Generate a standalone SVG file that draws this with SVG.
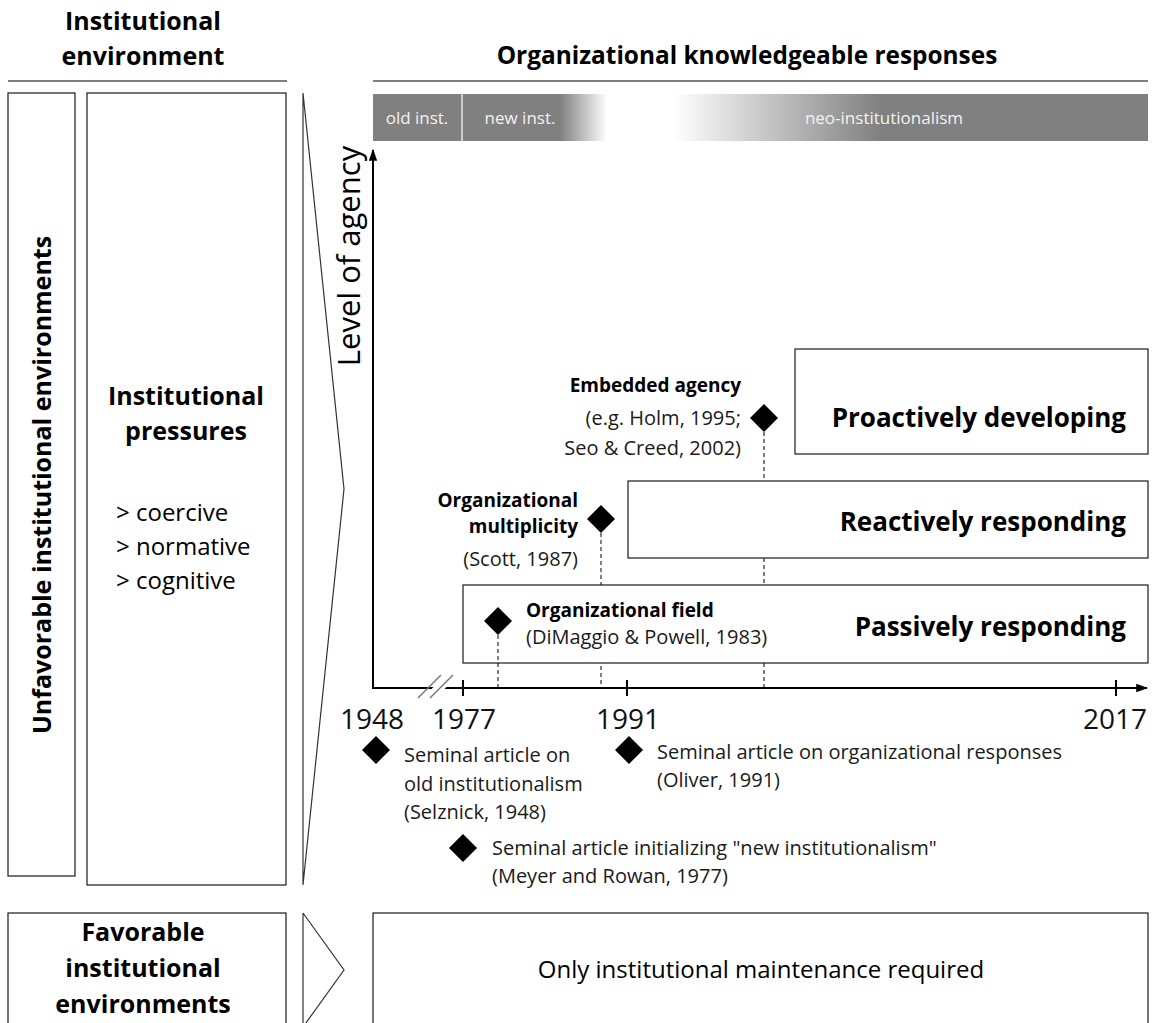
<svg xmlns="http://www.w3.org/2000/svg" width="1152" height="1023" viewBox="0 0 1152 1023">
  <defs>
    <style>
      text { font-family: "Open Sans", "Noto Sans", sans-serif; fill: #000; }
      .title { font-size: 25px; font-weight: bold; }
      .big { font-size: 24px; }
      .bigb { font-size: 26px; font-weight: bold; }
      .lbl { font-size: 20px; fill: #1a1a1a; }
      .lblb { font-size: 19px; font-weight: bold; }
      .band { font-size: 17px; fill: #f2f2f2; }
      .year { font-size: 28px; fill: #111; }
      .box { fill: #fff; stroke: #1a1a1a; stroke-width: 1.2; }
      .rule { stroke: #000; stroke-width: 1.2; }
      .axis { stroke: #000; stroke-width: 2; fill: none; }
      .dash { stroke: #000; stroke-width: 1; stroke-dasharray: 4 3; }
      .dia { fill: #000; }
    </style>
    <linearGradient id="fadeOut" x1="0" x2="1" y1="0" y2="0">
      <stop offset="0" stop-color="#808080"/>
      <stop offset="1" stop-color="#ffffff"/>
    </linearGradient>
    <linearGradient id="fadeIn" x1="0" x2="1" y1="0" y2="0">
      <stop offset="0" stop-color="#ffffff"/>
      <stop offset="1" stop-color="#808080"/>
    </linearGradient>
    <marker id="arrow" viewBox="0 0 10 10" refX="9" refY="5" markerWidth="6" markerHeight="6" orient="auto" markerUnits="strokeWidth">
      <path d="M0,1.5 L10,5 L0,8.5 z" fill="#000"/>
    </marker>
  </defs>

  <!-- column headings -->
  <g id="heading-environment">
    <text class="title" x="143" y="30" text-anchor="middle">Institutional</text>
    <text class="title" x="143" y="65" text-anchor="middle">environment</text>
    <line class="rule" x1="8" y1="81" x2="287" y2="81"/>
  </g>
  <g id="heading-responses">
    <text class="title" x="747" y="64" text-anchor="middle" style="font-size:24.4px">Organizational knowledgeable responses</text>
    <line class="rule" x1="373" y1="81" x2="1148" y2="81"/>
  </g>

  <!-- left column: unfavorable environments -->
  <g id="unfavorable">
    <rect class="box" x="8" y="93" width="67" height="783"/>
    <text class="title" transform="translate(51,485) rotate(-90)" text-anchor="middle">Unfavorable institutional environments</text>
  </g>
  <g id="pressures">
    <rect class="box" x="87" y="93" width="199" height="792"/>
    <text class="title" x="186" y="405" text-anchor="middle">Institutional</text>
    <text class="title" x="186" y="440" text-anchor="middle">pressures</text>
    <text class="big" x="116" y="521">&gt; coercive</text>
    <text class="big" x="116" y="555">&gt; normative</text>
    <text class="big" x="116" y="589">&gt; cognitive</text>
  </g>
  <g id="arrow-unfavorable">
    <path d="M303,93 L303,885 M303,93 L344,489 L303,885" fill="none" stroke="#333" stroke-width="1.2"/>
  </g>

  <!-- era band -->
  <g id="era-band">
    <rect x="373" y="94" width="187" height="47" fill="#808080"/>
    <rect x="560" y="94" width="47" height="47" fill="url(#fadeOut)"/>
    <rect x="673" y="94" width="208" height="47" fill="url(#fadeIn)"/>
    <rect x="880" y="94" width="268" height="47" fill="#808080"/>
    <line x1="462" y1="94" x2="462" y2="141" stroke="#fff" stroke-width="1.2"/>
    <text class="band" x="417" y="124" text-anchor="middle">old inst.</text>
    <text class="band" x="520" y="124" text-anchor="middle">new inst.</text>
    <text class="band" x="884" y="124" text-anchor="middle">neo-institutionalism</text>
  </g>

  <!-- connectors: axes, ticks, drop lines -->
  <g id="connectors">
    <line class="dash" x1="764" y1="432" x2="764" y2="688"/>
    <line class="dash" x1="601" y1="533" x2="601" y2="688"/>
    <line class="axis" x1="373" y1="689" x2="373" y2="150" marker-end="url(#arrow)"/>
    <line class="axis" x1="373" y1="688" x2="1147" y2="688" marker-end="url(#arrow)"/>
    <line x1="463" y1="680" x2="463" y2="696" stroke="#000" stroke-width="2"/>
    <line x1="627" y1="680" x2="627" y2="696" stroke="#000" stroke-width="2"/>
    <line x1="1116" y1="680" x2="1116" y2="696" stroke="#000" stroke-width="2"/>
    <!-- axis break -->
    <polygon points="420,700 445,676 458,676 433,700" fill="#fff"/>
    <line x1="418" y1="698" x2="441" y2="675" stroke="#777" stroke-width="1.5"/>
    <line x1="430" y1="698" x2="453" y2="675" stroke="#777" stroke-width="1.5"/>
  </g>

  <text class="big" transform="translate(360,256) rotate(-90)" text-anchor="middle" style="font-size:31px">Level of agency</text>

  <!-- response levels -->
  <g id="passive">
    <rect class="box" x="463" y="585" width="685" height="78"/>
    <text class="bigb" x="1126" y="636" text-anchor="end">Passively responding</text>
  </g>
  <g id="reactive">
    <rect class="box" x="628" y="481" width="520" height="77"/>
    <text class="bigb" x="1126" y="531" text-anchor="end">Reactively responding</text>
  </g>
  <g id="proactive">
    <rect class="box" x="795" y="349" width="353" height="105"/>
    <text class="bigb" x="1126" y="427" text-anchor="end">Proactively developing</text>
  </g>

  <!-- milestones on the chart -->
  <g id="embedded-agency">
    <polygon class="dia" points="764,404 778,418 764,432 750,418"/>
    <text class="lblb" x="741" y="392" text-anchor="end">Embedded agency</text>
    <text class="lbl" x="741" y="425" text-anchor="end">(e.g. Holm, 1995;</text>
    <text class="lbl" x="741" y="455" text-anchor="end">Seo &amp; Creed, 2002)</text>
  </g>
  <g id="multiplicity">
    <polygon class="dia" points="601,505 615,519 601,533 587,519"/>
    <text class="lblb" x="578" y="507" text-anchor="end">Organizational</text>
    <text class="lblb" x="578" y="533" text-anchor="end">multiplicity</text>
    <text class="lbl" x="578" y="566" text-anchor="end">(Scott, 1987)</text>
  </g>
  <g id="org-field">
    <line class="dash" x1="498" y1="635" x2="498" y2="688"/>
    <polygon class="dia" points="498,607 512,621 498,635 484,621"/>
    <text class="lblb" x="526" y="617">Organizational field</text>
    <text class="lbl" x="526" y="644">(DiMaggio &amp; Powell, 1983)</text>
  </g>

  <!-- year labels -->
  <g id="years">
    <text class="year" x="372" y="729" text-anchor="middle">1948</text>
    <text class="year" x="464" y="729" text-anchor="middle">1977</text>
    <text class="year" x="628" y="729" text-anchor="middle">1991</text>
    <text class="year" x="1115" y="729" text-anchor="middle">2017</text>
  </g>

  <!-- seminal articles -->
  <g id="seminal-1948">
    <polygon class="dia" points="376,736 390,750 376,764 362,750"/>
    <text class="lbl" x="404" y="762">Seminal article on</text>
    <text class="lbl" x="404" y="791">old institutionalism</text>
    <text class="lbl" x="404" y="819">(Selznick, 1948)</text>
  </g>
  <g id="seminal-1991">
    <polygon class="dia" points="629,736 643,750 629,764 615,750"/>
    <text class="lbl" x="657" y="759">Seminal article on organizational responses</text>
    <text class="lbl" x="657" y="787">(Oliver, 1991)</text>
  </g>
  <g id="seminal-1977">
    <polygon class="dia" points="463,834 477,848 463,862 449,848"/>
    <text class="lbl" x="492" y="855">Seminal article initializing "new institutionalism"</text>
    <text class="lbl" x="492" y="883">(Meyer and Rowan, 1977)</text>
  </g>

  <!-- favorable environments row -->
  <g id="favorable">
    <rect class="box" x="8" y="913" width="278" height="120"/>
    <text class="title" x="143" y="941" text-anchor="middle">Favorable</text>
    <text class="title" x="143" y="977" text-anchor="middle">institutional</text>
    <text class="title" x="143" y="1013" text-anchor="middle">environments</text>
  </g>
  <g id="arrow-favorable">
    <path d="M303,913 L303,1030 M303,913 L344,970 L303,1027" fill="none" stroke="#333" stroke-width="1.2"/>
  </g>
  <g id="maintenance">
    <rect class="box" x="373" y="913" width="775" height="120"/>
    <text class="big" x="761" y="978" text-anchor="middle">Only institutional maintenance required</text>
  </g>
</svg>
